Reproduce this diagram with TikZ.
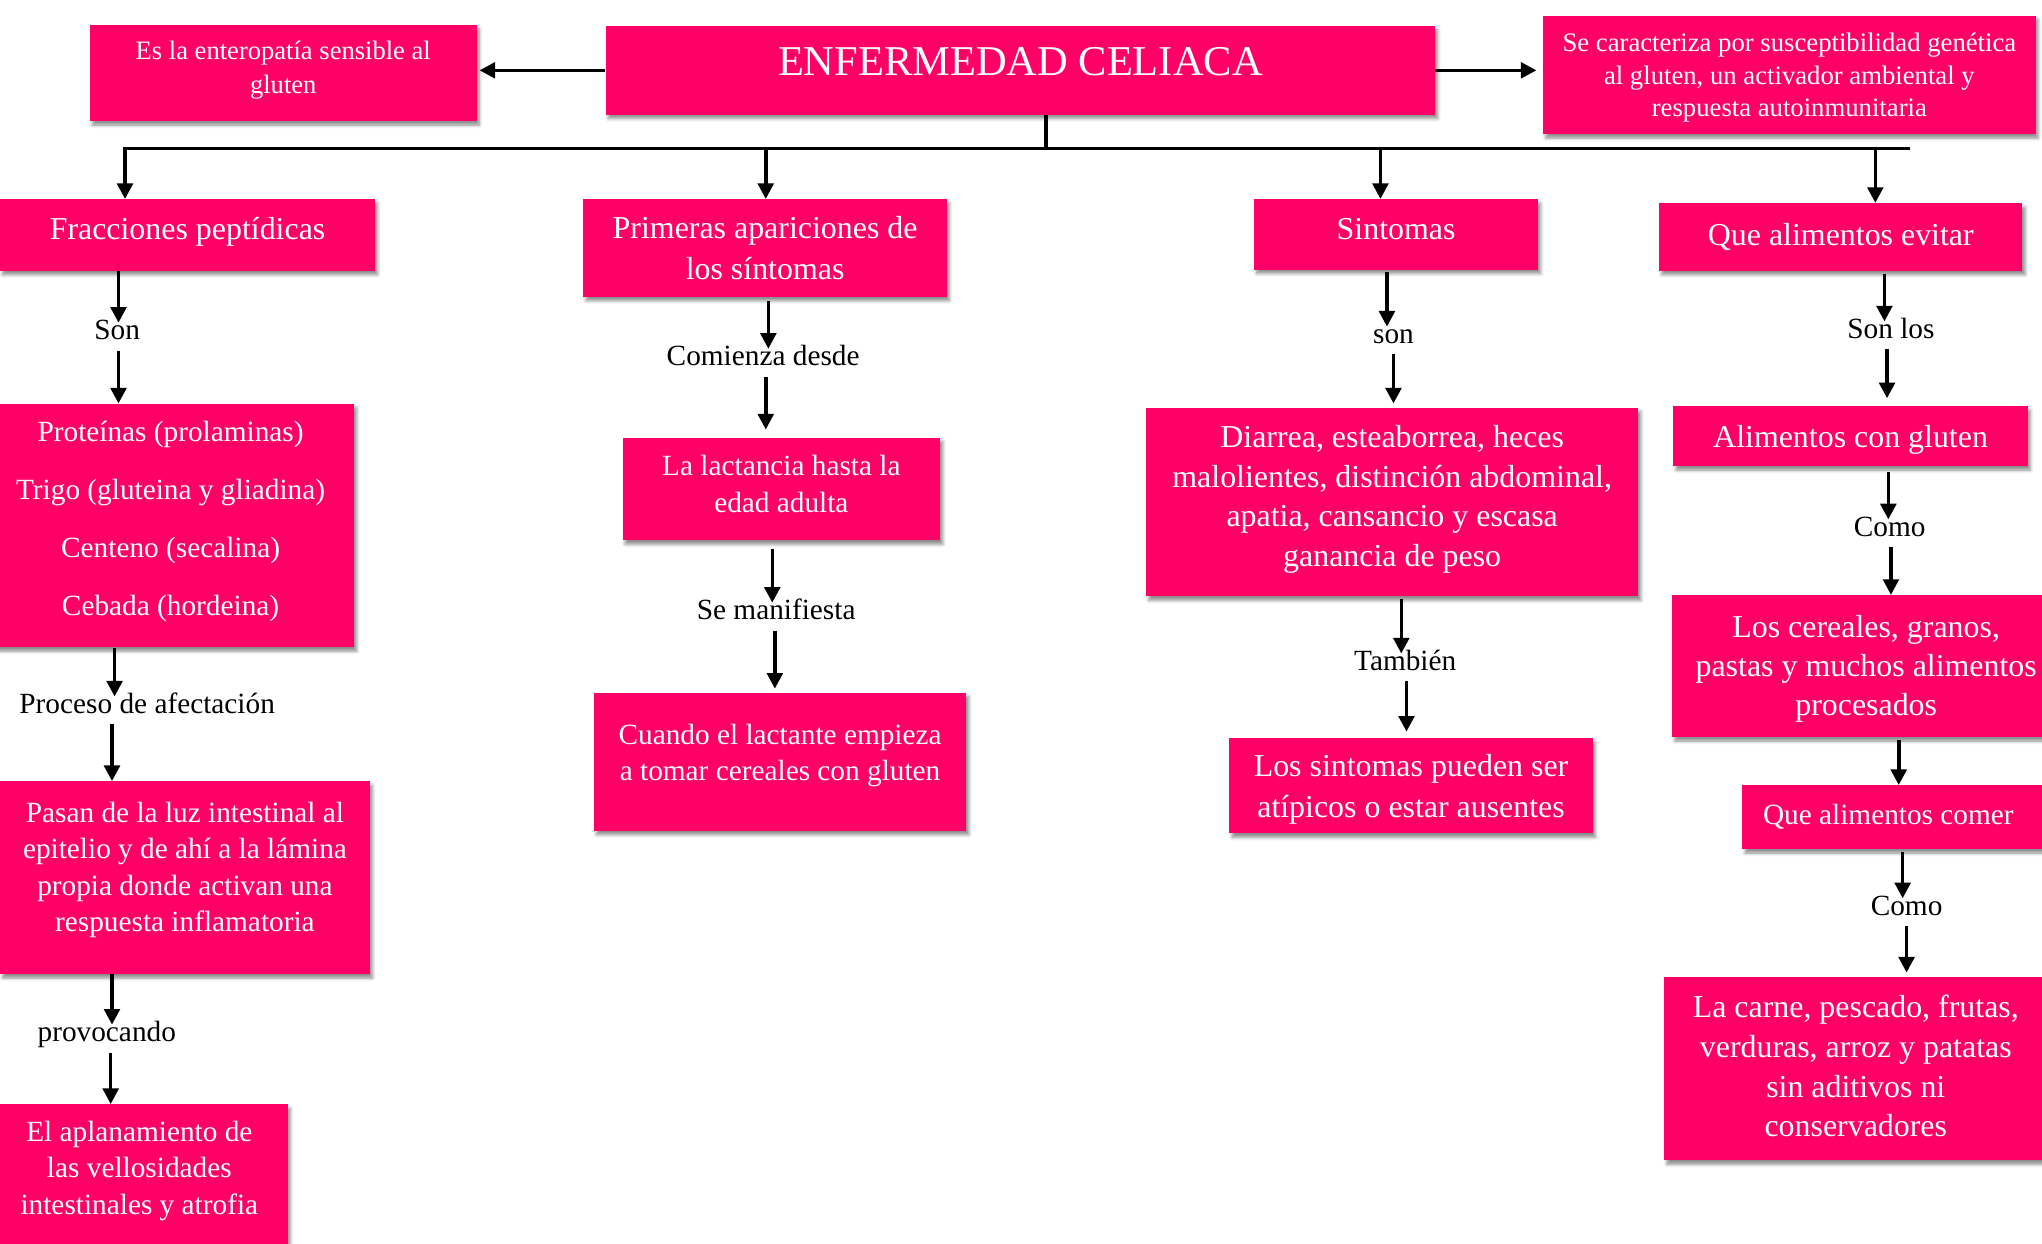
\documentclass[tikz,border=0pt]{standalone}
\usepackage{fontspec}
\setmainfont{Liberation Serif}
\usetikzlibrary{arrows.meta,shadows.blur}
\definecolor{pk}{RGB}{255,0,102}
\begin{document}
\begin{tikzpicture}[x=1pt,y=-1pt,
  box/.style={fill=pk,text=white,inner sep=0pt,align=center,
    blur shadow={shadow xshift=2pt,shadow yshift=-3pt,shadow blur radius=2.5pt,shadow opacity=45}},
  lbl/.style={anchor=base,inner sep=0pt,text height=13pt,text depth=8pt,font=\fontsize{22.5}{27}\selectfont},
  arr/.style={line width=2.7pt,-{Triangle[length=12pt,width=12pt]}},
  busline/.style={line width=2.8pt},
  fbig/.style={font=\fontsize{24.5}{31}\selectfont},
  fmid/.style={font=\fontsize{22.5}{28}\selectfont}]
\useasboundingbox (0,0) rectangle (1568,955);

% top row
\node[box,font=\fontsize{32.6}{38}\selectfont,minimum width=637pt,minimum height=68pt,text depth=14pt] (title) at (783.5,54) {ENFERMEDAD CELIACA};
\node[box,font=\fontsize{20.4}{26}\selectfont,minimum width=297pt,minimum height=74pt,text depth=8.5pt] (def) at (217.5,56) {Es la enteropatía sensible al\\gluten};
\node[box,font=\fontsize{20.5}{25}\selectfont,minimum width=378pt,minimum height=91pt,text depth=0pt] (carac) at (1374,57.5) {Se caracteriza por susceptibilidad genética\\al gluten, un activador ambiental y\\respuesta autoinmunitaria};

% second row
\node[box,fbig,minimum width=288pt,minimum height=55pt,text depth=9.5pt] (fr) at (144,180.5) {Fracciones peptídicas};
\node[box,fbig,minimum width=279pt,minimum height=75pt] (pa) at (587.5,190.5) {Primeras apariciones de\\los síntomas};
\node[box,fbig,minimum width=218pt,minimum height=54pt,text depth=8pt] (si) at (1072,180) {Sintomas};
\node[box,fbig,minimum width=279pt,minimum height=52pt] (qe) at (1413.5,182) {Que alimentos evitar};

% column 1
\node[lbl] (l1) at (90,261) {Son};
\node[box,font=\fontsize{22.5}{44.5}\selectfont,minimum width=282pt,minimum height=187pt,text depth=11pt] (prot) at (131,403.5) {Proteínas (prolaminas)\\Trigo (gluteina y gliadina)\\Centeno (secalina)\\Cebada (hordeina)};
\node[lbl] (l2) at (113,548) {Proceso de afectación};
\node[box,fmid,minimum width=284pt,minimum height=148pt,text depth=17pt] (pas) at (142,674) {Pasan de la luz intestinal al\\epitelio y de ahí a la lámina\\propia donde activan una\\respuesta inflamatoria};
\node[lbl] (l3) at (82,800) {provocando};
\node[box,fmid,minimum width=228pt,minimum height=108pt,text depth=11pt] (apl) at (107,902) {El aplanamiento de\\las vellosidades\\intestinales y atrofia};

% column 2
\node[lbl] (l4) at (586,281) {Comienza desde};
\node[box,font=\fontsize{22.5}{29}\selectfont,minimum width=244pt,minimum height=79pt,text depth=8pt] (lac) at (600,375.5) {La lactancia hasta la\\edad adulta};
\node[lbl] (l5) at (596,476) {Se manifiesta};
\node[box,fmid,minimum width=286pt,minimum height=106pt,text depth=15pt] (cua) at (599,585) {Cuando el lactante empieza\\a tomar cereales con gluten};

% column 3
\node[lbl] (l6) at (1070,264) {son};
\node[box,font=\fontsize{24.5}{30.5}\selectfont,minimum width=378pt,minimum height=145pt,text depth=9.5pt] (dia) at (1069,385.5) {Diarrea, esteaborrea, heces\\malolientes, distinción abdominal,\\apatia, cansancio y escasa\\ganancia de peso};
\node[lbl] (l7) at (1079,515) {También};
\node[box,fbig,minimum width=279pt,minimum height=73pt,text depth=0pt] (los) at (1083.5,603.5) {Los sintomas pueden ser\\atípicos o estar ausentes};

% column 4
\node[lbl] (l8) at (1452,260) {Son los};
\node[box,fbig,minimum width=272pt,minimum height=46pt,text depth=0pt] (alg) at (1421,335) {Alimentos con gluten};
\node[lbl] (l9) at (1451,412) {Como};
\node[box,font=\fontsize{24.5}{30}\selectfont,minimum width=298pt,minimum height=109pt,text depth=1.3pt] (cer) at (1433,511.5) {Los cereales, granos,\\pastas y muchos alimentos\\procesados};
\node[box,fmid,minimum width=240pt,minimum height=49pt] (com) at (1458,627.5) {\hspace*{-16pt}Que alimentos comer};
\node[lbl] (l10) at (1464,703) {Como};
\node[box,font=\fontsize{24.5}{30.5}\selectfont,minimum width=294pt,minimum height=141pt,text depth=4pt] (carne) at (1425,820.5) {La carne, pescado, frutas,\\verduras, arroz y patatas\\sin aditivos ni\\conservadores};

% top arrows
\draw[arr,shorten >=2pt] (title.west) -- (title.west -| def.east);
\draw[arr,shorten >=5pt] (title.east) -- (title.east -| carac.west);

% bus
\coordinate (bj) at (803,114);
\coordinate (b1) at (96,114);
\coordinate (b2) at (588,114);
\coordinate (b3) at (1060,114);
\coordinate (b4) at (1440,114);
\coordinate (bend) at (1467,114);
\draw[busline] (title.south -| bj) -- (bj);
\draw[arr,line width=2.8pt] (bend) -- (b1) -- (fr.north -| b1);
\draw[arr] (b2) -- (pa.north -| b2);
\draw[arr] (b3) -- (si.north -| b3);
\draw[arr] (b4) -- (qe.north -| b4);

% column 1 arrows
\draw[arr] (fr.south -| 91,0) -- (l1.north -| 91,0);
\draw[arr] (l1.south -| 91,0) -- (prot.north -| 91,0);
\draw[arr] (prot.south -| 88,0) -- (l2.north -| 88,0);
\draw[arr] (l2.south -| 86,0) -- (pas.north -| 86,0);
\draw[arr] (pas.south -| 86,0) -- (l3.north -| 86,0);
\draw[arr] (l3.south -| 85,0) -- (apl.north -| 85,0);

% column 2 arrows
\draw[arr,shorten <=3pt] (pa.south -| 590,0) -- (l4.north -| 590,0);
\draw[arr,shorten >=6pt] (l4.south -| 588,0) -- (lac.north -| 588,0);
\draw[arr,shorten <=6pt] (lac.south -| 593,0) -- (l5.north -| 593,0);
\draw[arr,shorten >=3pt] (l5.south -| 595,0) -- (cua.north -| 595,0);

% column 3 arrows
\draw[arr,shorten <=2pt] (si.south -| 1065,0) -- (l6.north -| 1065,0);
\draw[arr,shorten >=3pt] (l6.south -| 1070,0) -- (dia.north -| 1070,0);
\draw[arr,shorten <=2pt] (dia.south -| 1076,0) -- (l7.north -| 1076,0);
\draw[arr,shorten >=5pt] (l7.south -| 1080,0) -- (los.north -| 1080,0);

% column 4 arrows
\draw[arr,shorten <=2pt] (qe.south -| 1447,0) -- (l8.north -| 1447,0);
\draw[arr,shorten >=6pt] (l8.south -| 1449,0) -- (alg.north -| 1449,0);
\draw[arr,shorten <=4pt] (alg.south -| 1450,0) -- (l9.north -| 1450,0);
\draw[arr] (l9.south -| 1452,0) -- (cer.north -| 1452,0);
\draw[arr,shorten <=2pt] (cer.south -| 1458,0) -- (com.north -| 1458,0);
\draw[arr,shorten <=2pt] (com.south -| 1461,0) -- (l10.north -| 1461,0);
\draw[arr,shorten >=3pt] (l10.south -| 1464,0) -- (carne.north -| 1464,0);
\end{tikzpicture}
\end{document}
